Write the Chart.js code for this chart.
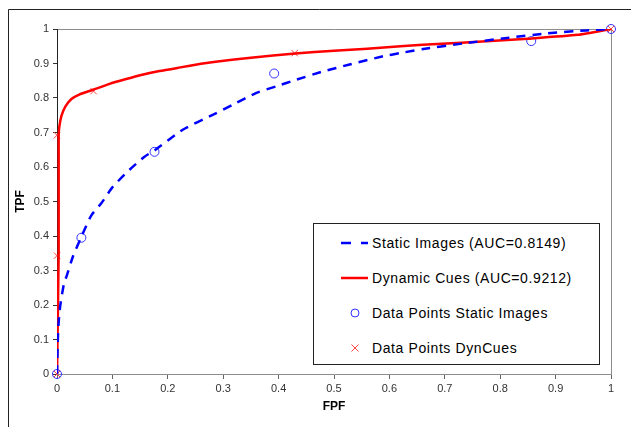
<!DOCTYPE html>
<html>
<head>
<meta charset="utf-8">
<script src="https://cdn.jsdelivr.net/npm/chart.js@4.4.2/dist/chart.umd.min.js"></script>
<style>
  html, body { margin: 0; padding: 0; background: #fff; }
  #wrap { position: relative; width: 631px; height: 427px; overflow: hidden; }
  #roc { position: absolute; left: 0; top: 0; }
  #legend {
    position: absolute; left: 313px; top: 223px; width: 285px; height: 140px;
    border: 1px solid #222; background: #fff;
    font-family: "Liberation Sans", Arial, sans-serif; font-size: 14px; letter-spacing: 0.6px; color: #000;
  }
  #legend .item { position: absolute; left: 0; height: 20px; display: flex; align-items: center; }
  #legend svg { width: 58px; height: 20px; }
  #legend span { white-space: nowrap; }
</style>
</head>
<body>
<div id="wrap">
  <canvas id="roc" width="631" height="427"></canvas>
  <div id="legend"></div>
</div>
<script>
// ROC curves: static images vs dynamic cues (fitted curves + observed operating points)
const TICKS = [0, 0.1, 0.2, 0.3, 0.4, 0.5, 0.6, 0.7, 0.8, 0.9, 1];

// fitted curve, static images (dashed blue)
const staticFpf = [0, 0.0015, 0.003, 0.006, 0.0135, 0.0166, 0.0286, 0.044, 0.062, 0.08, 0.101, 0.131, 0.158, 0.176,
  0.227, 0.281, 0.318, 0.36, 0.396, 0.432, 0.48, 0.528, 0.589, 0.619, 0.661, 0.733, 0.812, 0.884, 0.956, 1];
const staticTpf = [0, 0.1, 0.15, 0.2, 0.27, 0.28, 0.34, 0.398, 0.46, 0.495, 0.543, 0.592, 0.63, 0.648,
  0.708, 0.751, 0.781, 0.815, 0.834, 0.853, 0.877, 0.897, 0.921, 0.93, 0.942, 0.958, 0.974, 0.987, 0.996, 1];

// fitted curve, dynamic cues (solid red)
const dynFpf = [0, 0.003, 0.003, 0.004, 0.008, 0.015, 0.026, 0.04, 0.065, 0.095, 0.125, 0.15, 0.185, 0.22,
  0.26, 0.29, 0.35, 0.43, 0.5, 0.56, 0.62, 0.66, 0.73, 0.85, 0.94, 1];
const dynTpf = [0, 0.35, 0.69, 0.715, 0.748, 0.775, 0.797, 0.81, 0.824, 0.841, 0.855, 0.866, 0.878, 0.888,
  0.899, 0.906, 0.917, 0.929, 0.937, 0.943, 0.95, 0.954, 0.96, 0.972, 0.983, 1];

// observed operating points
const staticPtsFpf = [0, 0.044, 0.176, 0.392, 0.856, 1];
const staticPtsTpf = [0, 0.395, 0.644, 0.871, 0.965, 1];
const dynPtsFpf = [0, 0, 0, 0.066, 0.429, 1];
const dynPtsTpf = [0, 0.343, 0.692, 0.82, 0.93, 1];

const LABELS = ['Static Images (AUC=0.8149)', 'Dynamic Cues (AUC=0.9212)',
  'Data Points Static Images', 'Data Points DynCues'];

const FONT = '"Liberation Sans", Arial, sans-serif';
const pts = (xs, ys) => xs.map((x, i) => ({ x, y: ys[i] }));

// outer frame (left + top only, the rest is cropped) and the grey plot-area box
const framePlugin = {
  id: 'frame',
  beforeDraw(chart) {
    const { ctx, chartArea: a } = chart;
    ctx.save();
    ctx.strokeStyle = '#222';
    ctx.lineWidth = 1;
    ctx.beginPath();
    ctx.moveTo(8.5, 427); ctx.lineTo(8.5, 9.5); ctx.lineTo(631, 9.5);
    ctx.stroke();
    ctx.strokeStyle = '#8c8c8c';
    ctx.beginPath();
    ctx.moveTo(Math.round(a.left) + 0.5, Math.round(a.top) + 0.5);
    ctx.lineTo(Math.round(a.right) + 0.5, Math.round(a.top) + 0.5);
    ctx.lineTo(Math.round(a.right) + 0.5, Math.round(a.bottom) + 0.5);
    ctx.stroke();
    ctx.restore();
  },
};

const chart = new Chart(document.getElementById('roc'), {
  type: 'scatter',
  data: {
    datasets: [
      {
        label: LABELS[0], data: pts(staticFpf, staticTpf), showLine: true,
        borderColor: '#0000ff', borderWidth: 2.5, borderDash: [9, 7], pointRadius: 0, tension: 0.2,
      },
      {
        label: LABELS[1], data: pts(dynFpf, dynTpf), showLine: true,
        borderColor: '#ff0000', borderWidth: 2.5, pointRadius: 0, tension: 0.2,
      },
      {
        label: LABELS[2], data: pts(staticPtsFpf, staticPtsTpf), showLine: false, clip: 8,
        pointStyle: 'circle', pointRadius: 4.5, borderColor: '#3333ff', borderWidth: 1,
        backgroundColor: 'rgba(0,0,0,0)',
      },
      {
        label: LABELS[3], data: pts(dynPtsFpf, dynPtsTpf), showLine: false, clip: 8,
        pointStyle: 'crossRot', pointRadius: 4.5, borderColor: '#ff4444', borderWidth: 1,
        backgroundColor: 'rgba(0,0,0,0)',
      },
    ],
  },
  options: {
    responsive: false, animation: false, devicePixelRatio: 1,
    layout: { padding: { top: 29, right: 20, bottom: 0, left: 0 } },
    plugins: { legend: { display: false }, tooltip: { enabled: false } },
    scales: {
      x: {
        type: 'linear', min: 0, max: 1,
        afterBuildTicks: s => { s.ticks = TICKS.map(v => ({ value: v })); },
        afterFit: s => { s.height = 53; },
        grid: { drawOnChartArea: false, tickLength: 5, color: '#666' },
        border: { color: '#8c8c8c' },
        ticks: { color: '#333', padding: 3, font: { family: FONT, size: 11 }, maxRotation: 0,
          callback: v => String(v) },
        title: { display: true, text: 'FPF', color: '#000', padding: { top: 0, bottom: 13 },
          font: { family: FONT, size: 12, weight: 'bold' } },
      },
      y: {
        type: 'linear', min: 0, max: 1,
        afterBuildTicks: s => { s.ticks = TICKS.map(v => ({ value: v })); },
        afterFit: s => { s.width = 57; },
        grid: { drawOnChartArea: false, tickLength: 4, color: '#333' },
        border: { color: '#222' },
        ticks: { color: '#333', padding: 4, font: { family: FONT, size: 11 },
          callback: v => String(v) },
        title: { display: true, text: 'TPF', color: '#000', padding: { top: 13, bottom: 0 },
          font: { family: FONT, size: 12, weight: 'bold' } },
      },
    },
  },
  plugins: [framePlugin],
});

// legend box inside the plot, built from the datasets
const legendEl = document.getElementById('legend');
const rowTops = [9, 44, 79, 114];
chart.data.datasets.forEach((ds, i) => {
  let sym;
  if (i === 0) sym = `<line x1="27" y1="10" x2="37" y2="10" stroke="${ds.borderColor}" stroke-width="2.5"/><line x1="47" y1="10" x2="54" y2="10" stroke="${ds.borderColor}" stroke-width="2.5"/>`;
  else if (i === 1) sym = `<line x1="27" y1="10" x2="54" y2="10" stroke="${ds.borderColor}" stroke-width="2.5"/>`;
  else if (i === 2) sym = `<circle cx="41" cy="10" r="4" fill="none" stroke="${ds.borderColor}" stroke-width="1"/>`;
  else sym = `<path d="M37.5 6.5 L44.5 13.5 M44.5 6.5 L37.5 13.5" stroke="${ds.borderColor}" stroke-width="1"/>`;
  const row = document.createElement('div');
  row.className = 'item';
  row.style.top = rowTops[i] + 'px';
  row.innerHTML = `<svg>${sym}</svg><span>${ds.label}</span>`;
  legendEl.appendChild(row);
});
</script>
</body>
</html>
